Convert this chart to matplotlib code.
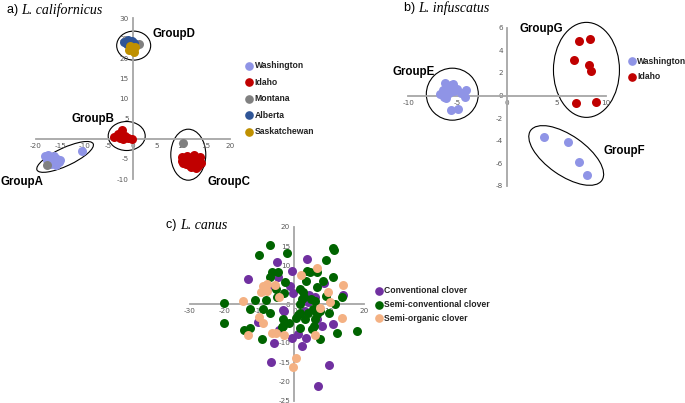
import numpy as np
import matplotlib
matplotlib.use('Agg')
from matplotlib import pyplot as plt
from matplotlib.patches import Ellipse
from matplotlib.lines import Line2D
from matplotlib.transforms import ScaledTranslation

plt.rcParams['axes.unicode_minus'] = False

# ---- a) L. californicus ----
a_series = ['Washington', 'Idaho', 'Montana', 'Alberta', 'Saskatchewan']
a_colors = ['#8f94e6', '#c00000', '#808080', '#2f5597', '#bf9000']
wash_a_x = [-18.2, -17.5, -16.8, -17.8, -16.5, -15.7, -15.2, -15.9, -16.9, -15.0, -17.2, -16.2, -10.5]
wash_a_y = [-4.3, -4.0, -4.5, -5.2, -5.4, -5.0, -5.8, -6.4, -6.2, -5.2, -4.8, -4.2, -3.0]
idaho_a_x = [-4.0, -3.4, -2.7, -2.3, -1.7, -1.0, -0.3, -3.0, -2.0,
             10.0, 10.6, 11.2, 11.8, 12.3, 12.8, 13.3, 13.8, 14.0, 11.0,
             12.0, 13.0, 12.6, 10.4, 11.6, 13.5, 12.1, 10.2]
idaho_a_y = [0.5, 0.8, 0.3, 2.2, 0.8, 0.2, -0.1, 1.2, 0.0,
             -4.5, -5.2, -4.2, -5.8, -4.8, -6.2, -5.3, -4.6, -6.0, -6.3,
             -7.0, -7.2, -4.0, -6.0, -6.6, -6.8, -5.5, -5.5]
mont_a_x = [-17.7, 10.4, 1.2]
mont_a_y = [-6.6, -1.0, 23.6]
alb_a_x = [-1.8, -1.0, -0.3, -1.2, 0.3]
alb_a_y = [24.2, 24.6, 24.4, 23.5, 23.8]
sask_a_x = [-0.7, -0.3, 0.2, 0.5, -0.9]
sask_a_y = [23.0, 22.3, 21.6, 22.8, 22.2]
a_groups = ['GroupA', 'GroupB', 'GroupC', 'GroupD']

# ---- b) L. infuscatus ----
b_series = ['Washington', 'Idaho']
wash_b_x = [-6.8, -6.3, -6.0, -6.2, -5.7, -5.4, -5.1, -4.7, -4.3, -4.2, -5.7, -5.0, -6.4, -5.9, -5.5, -6.5,
            3.7, 6.2, 7.3, 8.1]
wash_b_y = [0.1, 1.1, 0.6, -0.2, 0.9, 0.4, 0.6, 0.2, -0.1, 0.5, -1.3, -1.2, -0.1, 0.2, 1.0, 0.5,
            -3.7, -4.1, -5.9, -7.0]
idaho_b_x = [7.3, 8.4, 6.75, 8.3, 8.5, 6.95, 9.05]
idaho_b_y = [4.8, 5.0, 3.1, 2.7, 2.15, -0.65, -0.6]
b_groups = ['GroupE', 'GroupF', 'GroupG']

# ---- c) L. canus ----
c_series = ['Conventional clover', 'Semi-conventional clover', 'Semi-organic clover']
c_colors = ['#7030a0', '#006400', '#f4b183']
conv_x = [-13.2, -4.9, -0.7, 3.7, -4.6, -7.5, -8.7, -0.3, -1.4, 4.2, 5.9, 8.6, 13.9, -3.4, -3.0,
          -10.6, -4.4, -0.6, 1.1, 2.1, 3.3, -6.0, -6.7, 9.8, 6.7, 7.9, 11.0, 6.4, 3.1, 4.0]
conv_y = [6.5, 10.9, 8.5, 11.6, 6.9, 4.3, 4.5, 2.8, 4.7, 2.4, 1.9, 5.4, 2.3, -1.5, -1.7,
          -4.7, -6.7, -8.9, -7.8, -10.8, -8.7, -10.1, -15.1, -15.7, -21.1, -5.6, -5.2, -3.9, -1.7, 0.4]
semi_x = [-7.0, -10.2, -2.0, 11.0, 11.5, 9.1, -6.4, -4.6, -6.9, 3.5, 4.5, 6.4, -2.7, 3.3, 8.3,
          11.2, 6.6, -5.3, -3.0, -5.1, 1.6, 2.4, 2.9, 2.1, 4.8, 5.9, 1.6, 9.0, 13.8, 11.7,
          -20.1, -11.3, -8.1, -12.7, -9.1, -7.0, -3.4, -1.5, 0.9, 1.6, 3.1, 3.8, 5.3, 5.9, 5.5,
          5.0, 6.4, 7.4, 9.8, 1.7, -3.2, -20.2, -14.5, -12.7, -9.4, -3.6, 7.4, 12.2, 17.9, 0.5]
semi_y = [15.3, 12.8, 13.1, 14.6, 14.0, 11.4, 8.4, 8.4, 7.1, 8.5, 8.4, 8.4, 5.8, 5.9, 5.9,
          7.1, 4.3, 3.8, 2.8, 1.9, 3.9, 3.0, 1.7, 1.3, 1.3, 0.9, 0.0, 2.2, 1.9, -0.1,
          0.3, 1.1, 1.1, -1.3, -1.3, -2.3, -3.9, -5.0, -2.8, -2.4, -3.9, -2.4, -1.3, -3.9, -5.6,
          -6.5, -2.6, -1.7, -2.2, -6.2, -5.8, -5.0, -6.6, -6.2, -9.1, -6.0, -9.1, -7.5, -7.1, -3.6]
org_x = [-8.0, -9.1, -9.7, -7.8, -5.6, -4.3, -14.7, 1.8, 6.4, 9.6, 10.3, 14.1, 7.4, 13.7,
         -10.1, -9.1, -13.3, -6.5, -5.3, -3.0, 5.9, 0.5, -0.5]
org_y = [5.3, 4.7, 3.2, 3.3, 5.0, 1.9, 0.7, 7.6, 9.2, 3.0, 0.4, 5.0, -0.9, -3.7,
         -3.3, -4.9, -7.9, -7.6, -7.6, -7.9, -7.9, -14.0, -16.2]

W, H = 685, 403
fig = plt.figure(figsize=(W / 100, H / 100), dpi=100)
fig.patch.set_facecolor('white')


def add_axes(l, t, r, b):
    # pixel box -> figure fraction
    return fig.add_axes([l / W, 1 - b / H, (r - l) / W, (b - t) / H])


def excel_axes(ax, xlim, ylim, xticks, yticks):
    ax.set_xlim(xlim)
    ax.set_ylim(ylim)
    ax.set_xticks(xticks)
    ax.set_yticks(yticks)
    for s in ['top', 'right']:
        ax.spines[s].set_visible(False)
    for s in ['left', 'bottom']:
        ax.spines[s].set_position(('data', 0))
        ax.spines[s].set_color('#a6a6a6')
        ax.spines[s].set_linewidth(1.3)
    ax.tick_params(length=0, labelsize=5.2, labelcolor='#595959', pad=3)
    ax.patch.set_visible(False)


def ring(ax, cx, cy, w, h, angle=0):
    # ellipse sized in pixels, centred in data coords
    tr = fig.dpi_scale_trans + ScaledTranslation(cx, cy, ax.transData)
    ax.add_artist(Ellipse((0, 0), w / 100, h / 100, angle=angle, transform=tr,
                          fill=False, ec='black', lw=0.8, clip_on=False))


def legend(names, colors, x, y, step):
    for i, (n, c) in enumerate(zip(names, colors)):
        yy = 1 - (y + i * step) / H
        fig.add_artist(Line2D([x / W], [yy], marker='o', ms=5.2, color=c, lw=0,
                              transform=fig.transFigure))
        fig.text((x + 5.5) / W, yy, n, fontsize=6.2, fontweight='bold', va='center',
                 family='Liberation Sans', color='#222222')


def title(letter, name, x, y):
    t = fig.text(x / W, 1 - y / H, letter + ') ', fontsize=9, va='center', family='Liberation Sans')
    fig.canvas.draw()
    bb = t.get_window_extent()
    fig.text(bb.x1 / W, 1 - y / H, name, fontsize=10, va='center',
             family='Liberation Serif', style='italic')


gkw = dict(fontsize=8.3, fontweight='bold', family='Liberation Sans', clip_on=False, va='center')
S = 42

# panel a
ax = add_axes(36, 18.3, 230, 179)
excel_axes(ax, (-20, 20), (-10, 30), np.arange(-20, 21, 5), np.arange(-10, 31, 5))
ax.scatter(wash_a_x, wash_a_y, s=S, c=a_colors[0], lw=0, zorder=3)
ax.scatter(idaho_a_x, idaho_a_y, s=S, c=a_colors[1], lw=0, zorder=3)
ax.scatter(mont_a_x, mont_a_y, s=S, c=a_colors[2], lw=0, zorder=3)
ax.scatter(alb_a_x, alb_a_y, s=S, c=a_colors[3], lw=0, zorder=3)
ax.scatter(sask_a_x, sask_a_y, s=S, c=a_colors[4], lw=0, zorder=3)
ring(ax, -14.0, -4.5, 62, 18, 25)
ring(ax, -1.3, 0.7, 37, 29)
ring(ax, 11.4, -3.95, 35, 51)
ring(ax, 0.14, 23.2, 34, 29)
ax.text(-27.4, -10.7, a_groups[0], **gkw)
ax.text(-12.6, 5.0, a_groups[1], **gkw)
ax.text(15.3, -10.7, a_groups[2], **gkw)
ax.text(4.1, 26.2, a_groups[3], **gkw)
legend(a_series, a_colors, 249, 65.7, 16.5)
title('a', 'L. californicus', 7, 10)

# panel b
ax = add_axes(408.3, 27.7, 605.7, 186)
excel_axes(ax, (-10, 10), (-8, 6), np.arange(-10, 11, 5), np.arange(-8, 7, 2))
ax.scatter(wash_b_x, wash_b_y, s=S, c=a_colors[0], lw=0, zorder=3)
ax.scatter(idaho_b_x, idaho_b_y, s=S, c=a_colors[1], lw=0, zorder=3)
ring(ax, -5.54, 0.12, 52, 52)
ring(ax, 6.0, -5.3, 87, 40, -35)
ring(ax, 8.05, 2.27, 66, 95)
ax.text(-11.65, 2.1, b_groups[0], **gkw)
ax.text(9.79, -4.94, b_groups[1], **gkw)
ax.text(1.28, 5.86, b_groups[2], **gkw)
legend(b_series, a_colors[:2], 631.7, 61, 15.7)
title('b', 'L. infuscatus', 404, 8)

# panel c
ax = add_axes(190, 226.7, 364, 400.7)
excel_axes(ax, (-30, 20), (-25, 20), np.arange(-30, 21, 10), np.arange(-25, 21, 5))
ax.scatter(conv_x, conv_y, s=S, c=c_colors[0], lw=0, zorder=3)
ax.scatter(semi_x, semi_y, s=S, c=c_colors[1], lw=0, zorder=3)
ax.scatter(org_x, org_y, s=S, c=c_colors[2], lw=0, zorder=3)
legend(c_series, c_colors, 379, 290.7, 13.8)
title('c', 'L. canus', 166, 225)

fig.savefig('out.png', dpi=100)
